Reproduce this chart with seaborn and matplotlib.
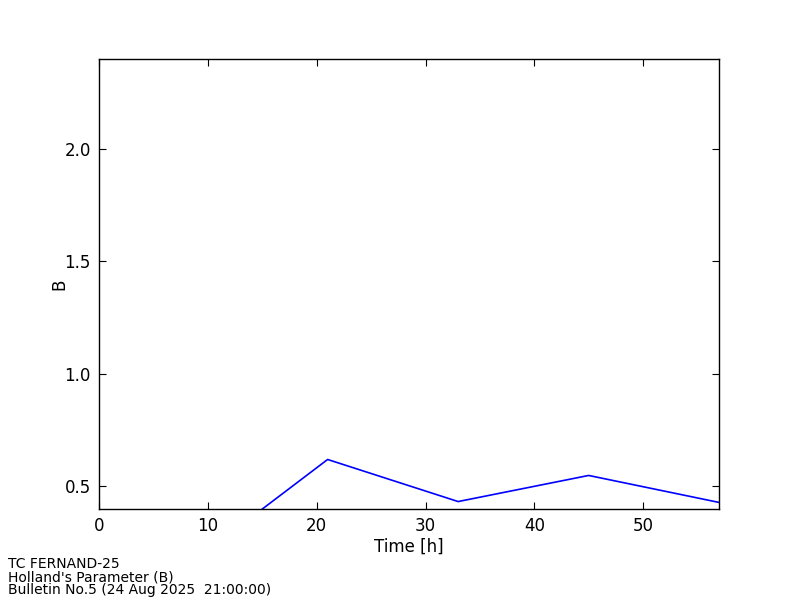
import matplotlib
matplotlib.use("Agg")
import matplotlib.pyplot as plt
import seaborn as sns
import pandas as pd

time_h = [9, 21, 33, 45, 57]
b_values = [0.18, 0.62, 0.433, 0.549, 0.429]
x_ticks = [0, 10, 20, 30, 40, 50]
y_ticks = [0.5, 1.0, 1.5, 2.0]
footer_lines = ["TC FERNAND-25", "Holland's Parameter (B)", "Bulletin No.5 (24 Aug 2025  21:00:00)"]

sns.set_style("white")
plt.rcParams['font.family'] = ['DejaVu Sans']
plt.rcParams['text.color'] = 'black'
plt.rcParams['axes.labelcolor'] = 'black'
plt.rcParams['xtick.color'] = 'black'
plt.rcParams['ytick.color'] = 'black'

df = pd.DataFrame({"Time [h]": time_h, "B": b_values})

fig = plt.figure(figsize=(8, 6), dpi=100)
ax = fig.add_axes([0.124, 0.1517, 0.775, 0.75])
sns.lineplot(data=df, x="Time [h]", y="B", ax=ax, color="blue", linewidth=1.2)
ax.set_xlim(0, 57)
ax.set_ylim(0.4, 2.4)
ax.set_xticks(x_ticks)
ax.set_yticks(y_ticks)
ax.set_yticklabels([f"{v:.1f}" for v in y_ticks])
ax.tick_params(direction="in", length=5, width=0.8, top=True, right=True,
               bottom=True, left=True, labelsize=12, colors="black", pad=6)
for s in ax.spines.values():
    s.set_color("black")
    s.set_linewidth(1.0)
ax.set_xlabel("Time [h]", fontsize=12, labelpad=2, color="black")
ax.set_ylabel("B", fontsize=12, labelpad=-3, color="black")

fig.text(0.01, 0.005, "\n".join(footer_lines), fontsize=10, ha="left", va="bottom",
         linespacing=0.9, color="black")

fig.savefig("out.png", dpi=100)
